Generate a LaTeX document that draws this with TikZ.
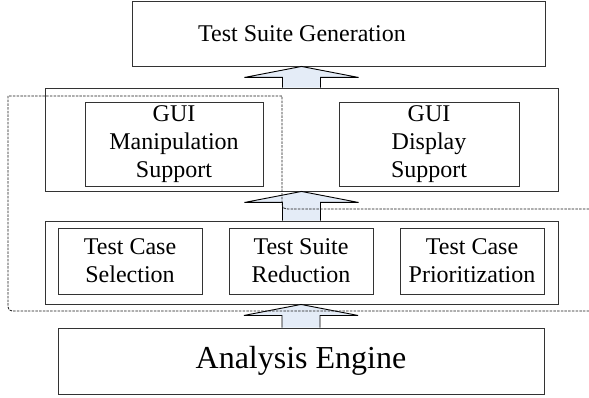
\documentclass[tikz,border=0pt]{standalone}
\usepackage{fontspec}
\setmainfont{Liberation Serif}
\usetikzlibrary{calc}

\definecolor{arrowblue}{RGB}{228,236,247}

\tikzset{
    box/.style={draw=black!80, line width=0.9pt, align=center, inner sep=0pt,
        font=\fontsize{24}{28}\selectfont},
    arrowbody/.style={draw=black, line width=0.9pt, fill=arrowblue},
    regionline/.style={draw=black!90, line width=0.8pt, dash pattern=on 2.5pt off 1.2pt}
}

% block arrow from the top of #1 up to the bottom of #2
\newcommand{\blockarrow}[2]{%
    \draw[arrowbody] ($(#1.north)+(-19,0)$) -- ($(#1.north |- #2.south)+(-19,11)$)
        -- ($(#1.north |- #2.south)+(-57,11)$) -- (#1.north |- #2.south)
        -- ($(#1.north |- #2.south)+(57,11)$) -- ($(#1.north |- #2.south)+(19,11)$)
        -- ($(#1.north)+(19,0)$);
}

\begin{document}
\begin{tikzpicture}[x=1pt, y=-1pt]
        \useasboundingbox (0,0) rectangle (589,398);

        \node[box, minimum width=413, minimum height=65] (gen) at (338.5, 33.5) {};
        \node[font=\fontsize{24}{28}\selectfont, inner sep=0pt] (gentext) at (302, 33.5) {Test Suite Generation};

        \node[box, minimum width=513, minimum height=103] (gui) at (301.5, 139.5) {};
        \node[box, minimum width=178, minimum height=84] (manip) at (174, 144) {GUI\\Manipulation\\Support};
        \node[box, minimum width=180, minimum height=84] (disp) at (429, 144) {GUI\\Display\\Support};

        \node[box, minimum width=513, minimum height=83] (tech) at (301.5, 262.5) {};
        \node[box, minimum width=144, minimum height=66] (sel) at (130, 261) {Test Case\\Selection};
        \node[box, minimum width=144, minimum height=66] (red) at (301, 261) {Test Suite\\Reduction};
        \node[box, minimum width=144, minimum height=66] (prio) at (472, 261) {Test Case\\Prioritization};

        \node[box, minimum width=486, minimum height=66, font=\fontsize{32}{36}\selectfont] (engine) at (301, 361) {Analysis Engine};

        \blockarrow{gui}{gen}
        \blockarrow{tech}{gui}
        \blockarrow{engine}{tech}

        \draw[regionline] (589,209) -- (292,209) .. controls (282,209) .. (282,199) -- (282,96)
            -- (8,96) -- (8,302) .. controls (8,311) .. (17,311) -- (589,311);
    \end{tikzpicture}
\end{document}
